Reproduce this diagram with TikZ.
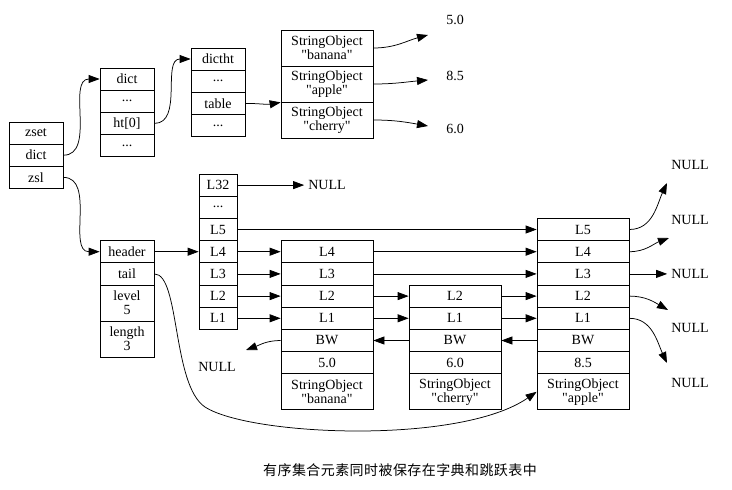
\documentclass[tikz,border=0pt]{standalone}
\usepackage{fontspec}
\setmainfont{Liberation Serif}
\newfontfamily\cjkfont{Noto Sans CJK SC}
\usetikzlibrary{arrows.meta}

\tikzset{
  fld/.style={draw,line width=0.75pt,minimum height=22.2pt,inner sep=0pt,align=center},
  fld38/.style={fld,minimum width=38pt},
  fld54/.style={fld,minimum width=54pt},
  fld92/.style={fld,minimum width=92pt},
  tall/.style={minimum height=36pt},
  lbl/.style={inner sep=4pt},
  ptr/.style={-{Triangle[length=11pt,width=8pt]},line width=0.75pt}
}
\newcommand{\qq}[1]{\textquotedbl#1\textquotedbl}

\begin{document}
\begin{tikzpicture}
  [x=1pt,y=-1pt,font=\fontsize{14}{14}\selectfont]
  \useasboundingbox (0,0) rectangle (732,490);

  % zset
  \node[fld54] (zset) at (36,133) {zset};
  \node[fld54] (zdict) at (36,155.2) {dict};
  \node[fld54] (zzsl) at (36,177.4) {zsl};

  % dict and dictht
  \node[fld54] (ddict) at (127,79) {dict};
  \node[fld54] (ddots1) at (127,101.2) {...};
  \node[fld54] (dht) at (127,123.4) {ht[0]};
  \node[fld54] (ddots2) at (127,145.6) {...};
  \node[fld54] (tdictht) at (218,59) {dictht};
  \node[fld54] (tdots1) at (218,81.2) {...};
  \node[fld54] (ttable) at (218,103.4) {table};
  \node[fld54] (tdots2) at (218,125.6) {...};

  \node[fld92,tall] (sbanana) at (327,48) {StringObject\\\qq{banana}};
  \node[fld92,tall] (sapple) at (327,84) {StringObject\\\qq{apple}};
  \node[fld92,tall] (scherry) at (327,120) {StringObject\\\qq{cherry}};
  \node (v50) at (455,20) {5.0};
  \node (v85) at (455,76) {8.5};
  \node (v60) at (455,129) {6.0};
  \coordinate (e50) at (428,35);
  \coordinate (e85) at (428,80);
  \coordinate (e60) at (428,126);

  % zskiplist
  \node[fld54] (header) at (127,251.7) {header};
  \node[fld54] (tail) at (127,273.9) {tail};
  \node[fld54,tall] (level) at (127,303) {level\\5};
  \node[fld54,tall] (length) at (127,339) {length\\3};

  % header levels
  \node[fld38] (hL32) at (218,185.1) {L32};
  \node[fld38] (hdots) at (218,207.3) {...};
  \foreach \lv/\y in {L5/229.5, L4/251.7, L3/273.9, L2/296.1, L1/318.3}
    \node[fld38] (h\lv) at (218,\y) {\lv};

  % banana, cherry, apple
  \foreach \lv/\y in {L4/251.7, L3/273.9, L2/296.1, L1/318.3, BW/340.5}
    \node[fld92] (b\lv) at (327,\y) {\lv};
  \node[fld92] (bscore) at (327,362.7) {5.0};
  \node[fld92,tall] (bobj) at (327,391.8) {StringObject\\\qq{banana}};

  \foreach \lv/\y in {L2/296.1, L1/318.3, BW/340.5}
    \node[fld92] (c\lv) at (455,\y) {\lv};
  \node[fld92] (cscore) at (455,362.7) {6.0};
  \node[fld92,tall] (cobj) at (455,391.8) {StringObject\\\qq{cherry}};

  \foreach \lv/\y in {L5/229.5, L4/251.7, L3/273.9, L2/296.1, L1/318.3, BW/340.5}
    \node[fld92] (a\lv) at (583,\y) {\lv};
  \node[fld92] (ascore) at (583,362.7) {8.5};
  \node[fld92,tall] (aobj) at (583,391.8) {StringObject\\\qq{apple}};

  % NULLs
  \node[lbl] (n32) at (327,185.1) {NULL};
  \node[lbl] (nbw) at (217,367) {NULL};
  \node[lbl] (n5) at (690,165) {NULL};
  \node[lbl] (n4) at (690,220) {NULL};
  \node[lbl] (n3) at (690,273.9) {NULL};
  \node[lbl] (n2) at (690,328) {NULL};
  \node[lbl] (n1) at (690,383) {NULL};
  \coordinate (ebw) at (246,350);
  \coordinate (e5) at (667,183);
  \coordinate (e4) at (669,238);
  \coordinate (e2) at (668,310);
  \coordinate (e1) at (667,363);

  % pointers
  \draw[ptr] (zdict.east) to[out=0,in=180] (ddict.west);
  \draw[ptr] (dht.east) to[out=0,in=180] (tdictht.west);
  \draw[ptr] (ttable.east) to[out=0,in=190] (sapple.south west);
  \draw[ptr] (sbanana.east) to[out=0,in=195] (e50);
  \draw[ptr] (sapple.east) to[out=0,in=185] (e85);
  \draw[ptr] (scherry.east) to[out=0,in=170] (e60);
  \draw[ptr] (zzsl.east) to[out=0,in=180] (header.west);
  \draw[ptr] (tail.east) .. controls (180,274) and (172,385) .. (205,407)
    .. controls (250,436) and (460,445) .. (aobj.west);

  \foreach \from/\to in {header/hL4, hL32/n32, hL5/aL5, hL4/bL4, hL3/bL3, hL2/bL2,
  hL1/bL1, bL4/aL4, bL3/aL3, bL2/cL2, bL1/cL1, cL2/aL2, cL1/aL1, cBW/bBW, aBW/cBW, aL3/n3}
    \draw[ptr] (\from) -- (\to);

  \draw[ptr] (bBW.west) to[out=180,in=20] (ebw);
  \draw[ptr] (aL5.east) to[out=0,in=245] (e5);
  \draw[ptr] (aL4.east) to[out=0,in=200] (e4);
  \draw[ptr] (aL2.east) to[out=0,in=150] (e2);
  \draw[ptr] (aL1.east) to[out=0,in=115] (e1);

  \node (cap) at (400,470) {\cjkfont\addfontfeature{LetterSpace=3}有序集合元素同时被保存在字典和跳跃表中};
\end{tikzpicture}
\end{document}
